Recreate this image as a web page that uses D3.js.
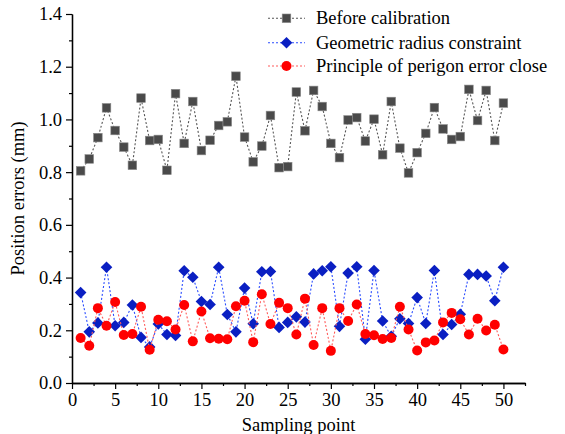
<!DOCTYPE html>
<html>
<head>
<meta charset="utf-8">
<script src="https://cdn.jsdelivr.net/npm/d3@7"></script>
<style>
  html, body { margin: 0; padding: 0; background: #fff; }
  svg { display: block; }
  svg text { font-family: "Liberation Serif", "DejaVu Serif", "Times New Roman", Times, serif !important; }
</style>
</head>
<body>
<div id="chart"></div>
<script>
const samplePoints = d3.range(1, 51);
const beforeCalibration = [0.805,0.850,0.931,1.044,0.958,0.895,0.826,1.081,0.920,0.924,
  0.807,1.098,0.909,1.068,0.882,0.921,0.977,0.991,1.164,0.933,
  0.839,0.899,1.015,0.817,0.821,1.104,0.957,1.110,1.049,0.909,
  0.855,0.998,1.007,0.918,1.001,0.866,1.068,0.891,0.797,0.874,
  0.947,1.045,0.964,0.924,0.935,1.114,0.996,1.110,0.920,1.062];
const geometricRadius = [0.343,0.194,0.228,0.439,0.217,0.230,0.296,0.173,0.137,0.224,
  0.184,0.180,0.426,0.401,0.309,0.298,0.439,0.260,0.194,0.360,
  0.225,0.422,0.423,0.211,0.230,0.251,0.231,0.414,0.426,0.441,
  0.215,0.417,0.441,0.166,0.427,0.235,0.177,0.244,0.226,0.324,
  0.226,0.427,0.184,0.222,0.261,0.412,0.412,0.406,0.312,0.439];
const perigonClose = [0.171,0.141,0.284,0.217,0.307,0.182,0.186,0.289,0.126,0.240,
  0.234,0.203,0.296,0.158,0.271,0.170,0.168,0.166,0.291,0.312,
  0.155,0.337,0.224,0.304,0.284,0.184,0.320,0.144,0.284,0.122,
  0.284,0.235,0.298,0.186,0.181,0.167,0.171,0.289,0.203,0.123,
  0.154,0.161,0.230,0.266,0.242,0.184,0.244,0.199,0.221,0.127];
const seriesNames = ["Before calibration", "Geometric radius constraint", "Principle of perigon error close"];
const xTicks = [0,5,10,15,20,25,30,35,40,45,50];
const yTicks = [0,0.2,0.4,0.6,0.8,1.0,1.2,1.4];

const FONT = '"Liberation Serif", "DejaVu Serif", "Times New Roman", Times, serif';
const W = 565, H = 434;
const svg = d3.select("#chart").append("svg").attr("width", W).attr("height", H)
  .attr("font-family", FONT);

const x = d3.scaleLinear().domain([0, 52.5]).range([72, 525]);
const y = d3.scaleLinear().domain([0, 1.4]).range([383, 14]);

const xAxis = d3.axisBottom(x).tickValues(xTicks).tickSize(6).tickSizeOuter(0).tickPadding(4);
const xMinor = d3.axisBottom(x).tickValues(d3.range(2.5, 53, 5)).tickSize(3).tickFormat("").tickSizeOuter(0);
const yAxis = d3.axisLeft(y).tickValues(yTicks).tickFormat(d3.format(".1f")).tickSize(6).tickSizeOuter(0).tickPadding(4);
const yMinor = d3.axisLeft(y).tickValues(d3.range(0.1, 1.4, 0.2)).tickSize(3).tickFormat("").tickSizeOuter(0);

function styleAxis(g) {
  g.attr("font-family", FONT).attr("font-size", 18.5);
  g.selectAll("path.domain").attr("stroke", "#000").attr("stroke-width", 1.3);
  g.selectAll(".tick line").attr("stroke", "#000").attr("stroke-width", 1.2);
  g.selectAll(".tick text").attr("fill", "#000");
}
svg.append("g").attr("transform", `translate(0,${y(0)})`).call(xMinor).call(styleAxis);
svg.append("g").attr("transform", `translate(0,${y(0)})`).call(xAxis).call(styleAxis);
svg.append("g").attr("transform", `translate(${x(0)},0)`).call(yMinor).call(styleAxis);
svg.append("g").attr("transform", `translate(${x(0)},0)`).call(yAxis).call(styleAxis);

svg.append("text").attr("x", (x(0) + x(52.5)) / 2).attr("y", 431).attr("text-anchor", "middle")
  .attr("font-size", 18.5).text("Sampling point");
svg.append("text").attr("transform", `translate(24,${(y(0) + y(1.4)) / 2}) rotate(-90)`)
  .attr("text-anchor", "middle").attr("font-size", 18.5).text("Position errors (mm)");

const series = [
  { name: seriesNames[0], values: beforeCalibration, line: "#555555", fill: "#4a4a4a", shape: "square" },
  { name: seriesNames[1], values: geometricRadius, line: "#2a4cff", fill: "#0a1fc2", shape: "diamond" },
  { name: seriesNames[2], values: perigonClose, line: "#ff5a5a", fill: "#ff0000", shape: "circle" }
];

const line = d3.line().x((d, i) => x(samplePoints[i])).y(d => y(d));

function drawMarker(g, shape, fill, cx, cy) {
  if (shape === "square") {
    g.append("rect").attr("x", cx - 4.3).attr("y", cy - 4.3).attr("width", 8.6).attr("height", 8.6)
      .attr("fill", fill).attr("stroke", "#8a8a8a").attr("stroke-width", 0.6);
  } else if (shape === "diamond") {
    const r = 5.8;
    g.append("path").attr("d", `M${cx},${cy - r}L${cx + r},${cy}L${cx},${cy + r}L${cx - r},${cy}Z`)
      .attr("fill", fill);
  } else {
    g.append("circle").attr("cx", cx).attr("cy", cy).attr("r", 5).attr("fill", fill);
  }
}

series.forEach(s => {
  const g = svg.append("g");
  g.append("path").datum(s.values).attr("d", line).attr("fill", "none")
    .attr("stroke", s.line).attr("stroke-width", 1.1).attr("stroke-dasharray", "2,2");
  s.values.forEach((v, i) => drawMarker(g, s.shape, s.fill, x(samplePoints[i]), y(v)));
});

const legendY = [18.3, 42.7, 66];
series.forEach((s, i) => {
  const g = svg.append("g");
  const ly = legendY[i];
  g.append("line").attr("x1", 268).attr("x2", 305).attr("y1", ly).attr("y2", ly)
    .attr("stroke", s.line).attr("stroke-width", 1.1).attr("stroke-dasharray", "2,2");
  drawMarker(g, s.shape, s.fill, 286.5, ly);
  g.append("text").attr("x", 316).attr("y", ly + 6).attr("font-size", 18.5).attr("fill", "#000").text(s.name);
});
</script>
</body>
</html>
